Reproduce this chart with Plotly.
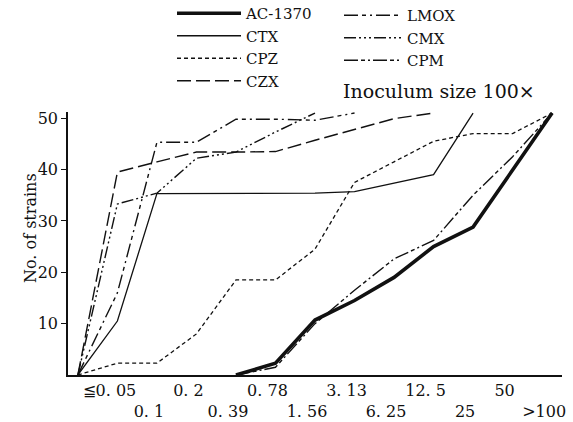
import plotly.graph_objects as go

# Category positions: index 0 is the origin (no strains), 1..12 are MIC classes
x_idx = list(range(13))
tick_labels = ["≦0. 05", "0. 1", "0. 2", "0. 39", "0. 78", "1. 56",
               "3. 13", "6. 25", "12. 5", "25", "50", ">100"]

ac1370 = [None, None, None, None, 0, 2.3, 10.7, 14.5, 19, 25, 28.8, 40, 51]
ctx = [0, 10.5, 35.3, 35.3, 35.3, 35.3, 35.4, 35.7, 37.3, 39, 51, None, None]
cpz = [0, 2.3, 2.3, 8, 18.5, 18.5, 24.5, 37.5, 41.5, 45.5, 47, 47, 51]
czx = [0, 39.5, 41.5, 43.4, 43.4, 43.5, 45.7, 47.8, 49.9, 51, None, None, None]
lmox = [0, 16, 45.3, 45.3, 49.8, 49.8, 49.6, 51, None, None, None, None, None]
cmx = [0, 33.3, 35.4, 42.2, 43.4, 47.3, 51, None, None, None, None, None, None]
cpm = [None, None, None, None, 0, 1.5, 10, 16.5, 22.6, 26.2, 35, 42.5, 51]

FONT = "DejaVu Serif"
INK = "#111111"

series = [
    ("AC-1370", ac1370, 3.6, "solid", "legend"),
    ("CTX", ctx, 1.3, "solid", "legend"),
    ("CPZ", cpz, 1.3, "4px,3px", "legend"),
    ("CZX", czx, 1.4, "14px,5px", "legend"),
    ("LMOX", lmox, 1.4, "14px,4px,4px,4px,2px,4px", "legend2"),
    ("CMX", cmx, 1.4, "12px,3px,2px,3px,2px,3px,2px,3px", "legend2"),
    ("CPM", cpm, 1.4, "14px,3px,4px,3px,2px,3px", "legend2"),
]

fig = go.Figure()
for name, vals, w, dash, lg in series:
    fig.add_trace(go.Scatter(
        x=x_idx, y=vals, mode="lines", name=name, legend=lg,
        line=dict(color=INK, width=w, dash=dash),
        connectgaps=False, hoverinfo="skip",
    ))

# plot area in pixels: left 68, width 494; bottom 375, height 263
PL, PW, PB, PH = 68, 494, 375, 263


def px_x(p):
    return (p - PL) / PW


def px_y(p):
    return (PB - p) / PH


def esc(t):
    return t.replace(">", "&gt;")


# staggered two-row tick labels (odd ones drop to a second line)
tick_text = [esc(t) if i % 2 == 0 else "<br>" + esc(t) for i, t in enumerate(tick_labels)]

legend_common = dict(
    font=dict(family=FONT, size=15, color=INK),
    bgcolor="rgba(0,0,0,0)", borderwidth=0,
    orientation="v",
    xanchor="left", yanchor="top", traceorder="normal",
    tracegroupgap=0,
)

fig.update_layout(
    width=573, height=422,
    margin=dict(l=68, r=11, t=112, b=47, autoexpand=False),
    paper_bgcolor="white", plot_bgcolor="white",
    font=dict(family=FONT, size=16, color=INK),
    showlegend=True,
    legend=dict(x=px_x(172), y=px_y(-3), itemwidth=64, **legend_common),
    legend2=dict(x=px_x(339), y=px_y(-1), itemwidth=58, **legend_common),
    xaxis=dict(
        range=[-0.25, 12.25],
        tickmode="array",
        tickvals=list(range(1, 13)),
        ticktext=tick_text,
        tickangle=0,
        ticklabelshift=-8,
        ticks="", showgrid=False, zeroline=False,
        showline=True, linecolor=INK, linewidth=2,
        tickfont=dict(family=FONT, size=16, color=INK),
    ),
    yaxis=dict(
        range=[0, 51.2],
        tickmode="array", tickvals=[10, 20, 30, 40, 50],
        ticks="outside", ticklen=5, tickwidth=1.3, tickcolor=INK,
        showgrid=False, zeroline=False,
        showline=True, linecolor=INK, linewidth=1.5,
        tickfont=dict(family=FONT, size=16, color=INK),
    ),
    annotations=[
        dict(text="No. of strains", textangle=-90, showarrow=False,
             xref="paper", yref="paper", x=px_x(30), y=px_y(228),
             xanchor="center", yanchor="middle",
             font=dict(family=FONT, size=16, color=INK)),
        dict(text="Inoculum size 100×", showarrow=False,
             xref="paper", yref="paper", x=px_x(341), y=px_y(91),
             xanchor="left", yanchor="middle",
             font=dict(family=FONT, size=19, color=INK)),
    ],
)

fig.write_html("out.html")
